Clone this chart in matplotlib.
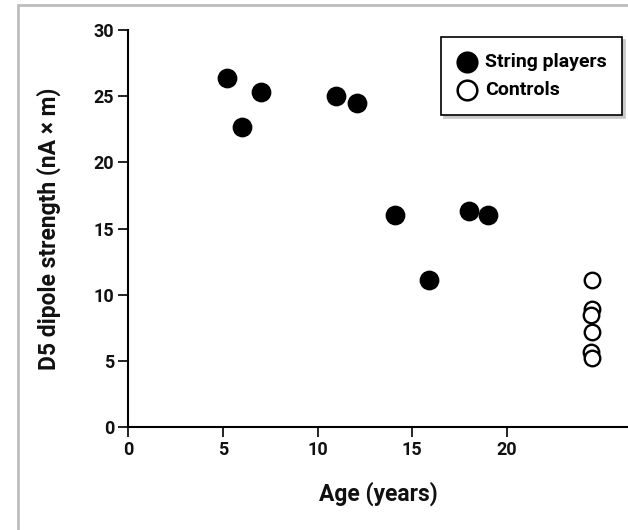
import matplotlib
matplotlib.use("Agg")
import matplotlib.pyplot as plt
from matplotlib.patches import Rectangle

# Ages and D5 dipole strengths
string_age = [5.2, 6.0, 7.0, 11.0, 12.1, 14.1, 15.9, 18.0, 19.0]
string_dipole = [26.4, 22.7, 25.3, 25.0, 24.5, 16.0, 11.1, 16.3, 16.0]

control_age = [24.5, 24.5, 24.45, 24.5, 24.45, 24.5]
control_dipole = [11.1, 8.9, 8.5, 7.2, 5.7, 5.2]

x_ticks = [0, 5, 10, 15, 20]
y_ticks = [0, 5, 10, 15, 20, 25, 30]

plt.rcParams['font.family'] = ['Roboto', 'DejaVu Sans']
plt.rcParams['font.weight'] = 'bold'
plt.rcParams['axes.labelweight'] = 'bold'

fig = plt.figure(figsize=(6.28, 5.30), dpi=100)

# grey page frame running off the right and bottom edges
fig.patches.append(Rectangle((18 / 628, -0.1), 1.0, 1 - 5 / 530 + 0.1,
                             transform=fig.transFigure, fill=False,
                             edgecolor='#bdbdbd', linewidth=2))

ax = fig.add_axes([128 / 628, 1 - 427 / 530, 1 - 128 / 628, (427 - 30) / 530])
ax.set_xlim(0, (628 - 128) / 18.95)
ax.set_ylim(0, 30)

ax.scatter(string_age, string_dipole, s=175, color='black', zorder=3,
           label='String players', clip_on=False)
ax.scatter(control_age, control_dipole, s=125, facecolor='white',
           edgecolor='black', linewidth=1.7, zorder=3, label='Controls',
           clip_on=False)

ax.spines['top'].set_visible(False)
ax.spines['right'].set_visible(False)
ax.spines['left'].set_linewidth(1.5)
ax.spines['bottom'].set_linewidth(1.5)
ax.set_xticks(x_ticks)
ax.set_yticks(y_ticks)
ax.tick_params(length=7, width=1.3, labelsize=13, pad=3, colors='#111')

ax.set_xlabel('Age (years)', fontsize=16.5, labelpad=16, color='#111')
ax.set_ylabel('D5 dipole strength (nA × m)', fontsize=16.5, labelpad=23,
              color='#111')

leg = ax.legend(loc='upper right', bbox_to_anchor=(0.988, 0.982), frameon=True,
                fancybox=False, shadow={'color': '#c8c8c8', 'alpha': 1},
                fontsize=14, handletextpad=0.35, borderpad=0.8,
                labelspacing=0.55, handlelength=1.1, borderaxespad=0.0)
leg.get_frame().set_edgecolor('black')
leg.get_frame().set_linewidth(1.2)
for h in leg.legend_handles:
    h.set_sizes([200])
    h.set_linewidth(1.8)

fig.savefig('out.png', dpi=100)
